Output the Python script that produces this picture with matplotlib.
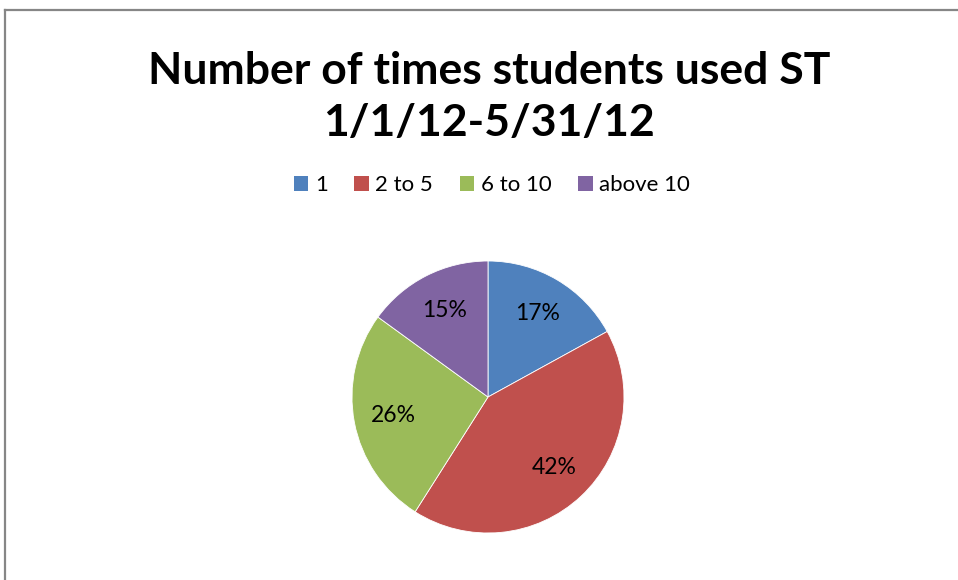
import matplotlib
matplotlib.use("Agg")
import matplotlib.pyplot as plt
from matplotlib.lines import Line2D
from matplotlib.patches import Patch

## DATA
categories = ["1", "2 to 5", "6 to 10", "above 10"]
shares = [17, 42, 26, 15]
colors = ["#4F81BD", "#C0504D", "#9BBB59", "#8064A2"]
title = "Number of times students used ST\n1/1/12-5/31/12"

W, H = 958, 580
plt.rcParams['font.family'] = ['Lato', 'DejaVu Sans']

fig = plt.figure(figsize=(W / 100, H / 100), dpi=100)
fig.patch.set_facecolor("white")

# chart frame: only top and left edges show
fig.add_artist(Line2D([4.5 / W, 4.5 / W], [0, 1 - 10 / H], color="#868686", lw=1.6,
                      transform=fig.transFigure))
fig.add_artist(Line2D([4.5 / W, 1], [1 - 10 / H, 1 - 10 / H], color="#868686", lw=1.6,
                      transform=fig.transFigure))

# title
fig.text(489 / W, 1 - 97 / H, title, ha="center", va="center", fontsize=32,
         fontweight="bold", linespacing=1.38)

# pie, center (488,397) radius 136 px
cx, cy, r = 488, 397, 136
ax = fig.add_axes([(cx - r) / W, (H - cy - r) / H, 2 * r / W, 2 * r / H])
wedges, texts = ax.pie(shares, colors=colors, startangle=90, counterclock=False,
                       labels=[f"{s}%" for s in shares], labeldistance=0.71,
                       wedgeprops=dict(linewidth=0.6, edgecolor="white"),
                       textprops=dict(fontsize=16.5, color="black", ha="center", va="center"))
for t in texts:
    t.set_horizontalalignment("center")
ax.set_aspect("equal")
ax.set_xlim(-1, 1)
ax.set_ylim(-1, 1)
ax.axis("off")

# legend
handles = [Patch(facecolor=c, edgecolor="none") for c in colors]
fig.legend(handles, categories, loc="center", bbox_to_anchor=(492 / W, 1 - 185 / H),
           ncol=4, frameon=False, fontsize=16, handlelength=0.65, handleheight=0.65,
           handletextpad=0.3, columnspacing=1.2)

fig.savefig("out.png", dpi=100, facecolor="white")
